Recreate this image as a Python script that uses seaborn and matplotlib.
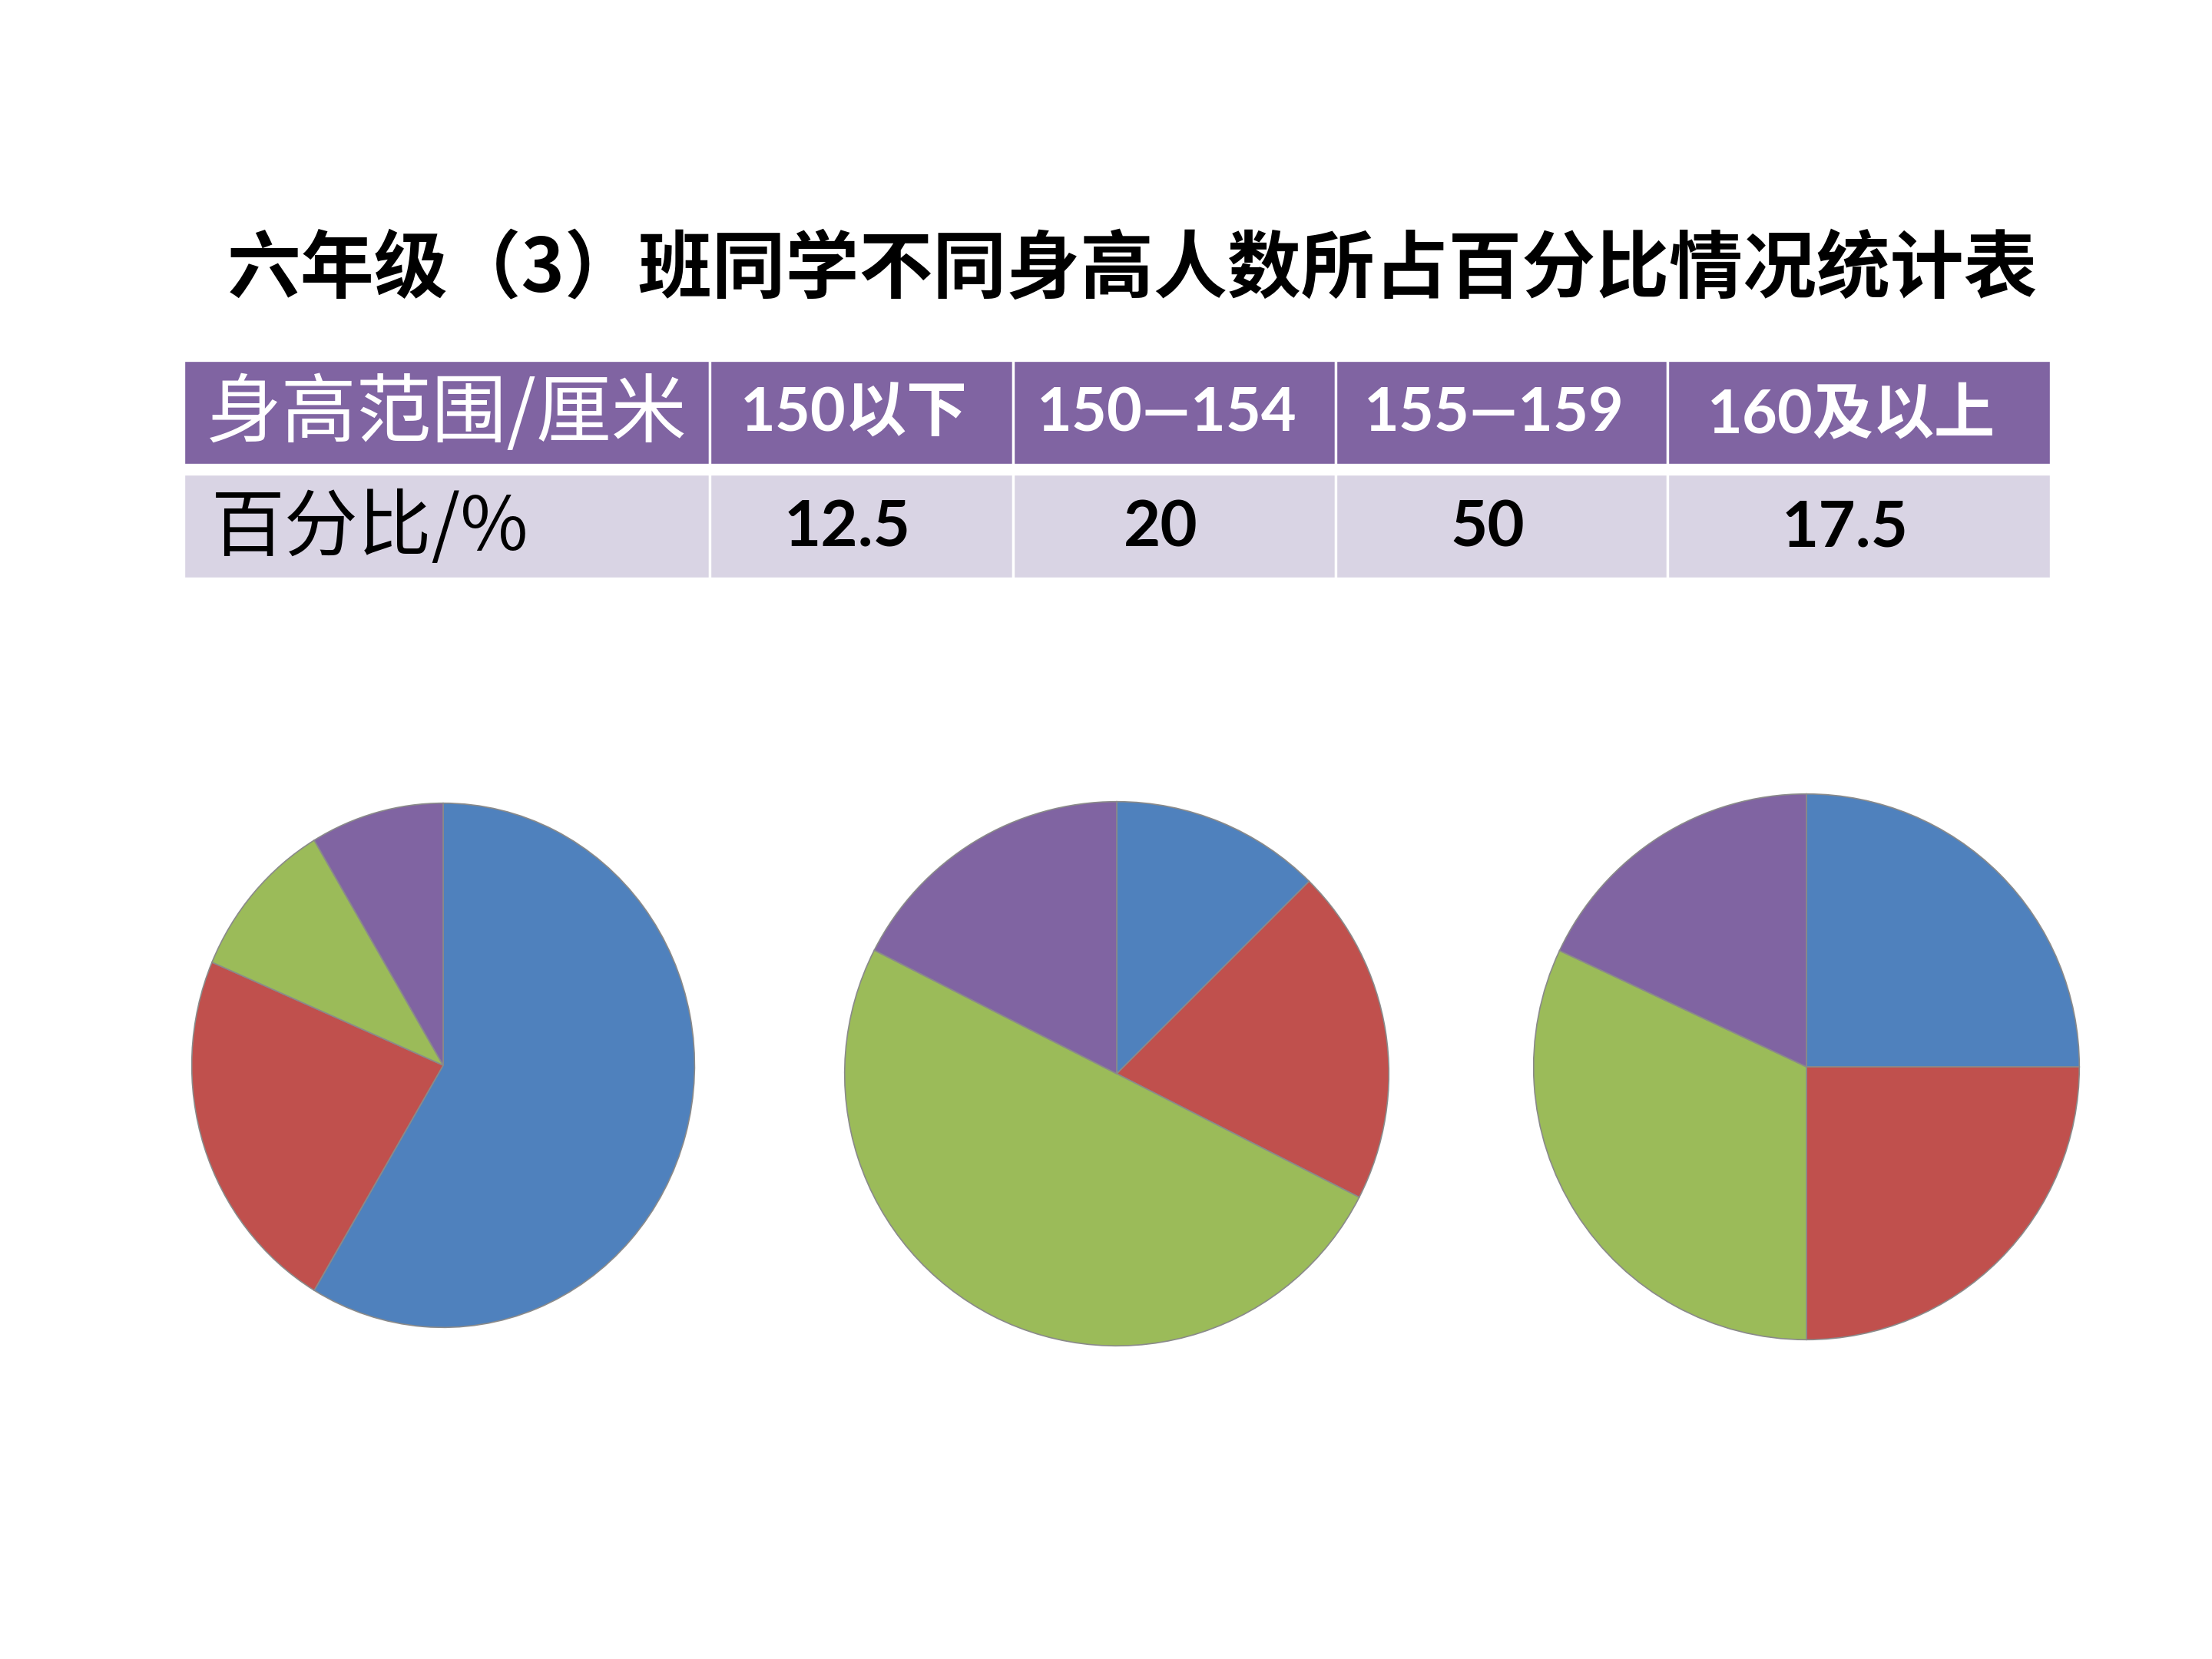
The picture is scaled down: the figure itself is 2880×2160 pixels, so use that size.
#!/usr/bin/env python3
#
# Class 6(3) height distribution: table plus three pie charts
#
import numpy as np
import matplotlib
matplotlib.use('Agg')
import matplotlib.pyplot as plt
import seaborn as sns
from matplotlib.patches import Rectangle


# Data
title = '六年级（3）班同学不同身高人数所占百分比情况统计表'
row_headers = ['身高范围/厘米', '百分比/%']
height_ranges = ['150以下', '150—154', '155—159', '160及以上']
percentages = [12.5, 20, 50, 17.5]

# Values of the three pies
pie1_values = [8.2, 3.2, 1.4, 1.2]
pie2_values = percentages
pie3_values = [25, 25, 32, 18]

# Office colours
colors = sns.color_palette(['#4F81BD', '#C0504D', '#9BBB59', '#8064A2'])
header_color = '#8064A2'
body_color = '#D9D4E4'

sns.set_theme(style='white')
plt.rcParams['font.family'] = ['Lato', 'Noto Sans CJK SC', 'DejaVu Sans']
cjk = ['Noto Sans CJK SC', 'DejaVu Sans']
mixed = ['Lato', 'Noto Sans CJK SC', 'DejaVu Sans']

# Figure size in pixels
W, H = 2880, 2160
fig = plt.figure(figsize=(W / 300, H / 300), dpi=300)
fig.patch.set_facecolor('white')

# Overlay axes in pixel coordinates, for title and table
ax = fig.add_axes([0, 0, 1, 1])
ax.set_xlim(0, W)
ax.set_ylim(H, 0)
ax.axis('off')

ax.text(1474, 352, title, ha='center', va='center', fontsize=23,
        fontweight='bold', family=cjk, color='black')

# Table geometry
col_x = [239, 924, 1319, 1739, 2171, 2670]
rows = [(469, 605), (617, 753)]

for irow, (y0, y1) in enumerate(rows):
    for icol in range(len(col_x) - 1):
        x0, x1 = col_x[icol], col_x[icol + 1]
        ax.add_patch(Rectangle(
            (x0, y0), x1 - x0, y1 - y0,
            facecolor=header_color if irow == 0 else body_color,
            edgecolor='white', linewidth=0.8))

# Header row
hy = 540
ax.text((col_x[0] + col_x[1]) / 2, hy, row_headers[0], ha='center',
        va='center', fontsize=23.5, family=cjk, color='white')
for i, label in enumerate(height_ranges):
    ax.text((col_x[i + 1] + col_x[i + 2]) / 2 - 10, hy, label, ha='center',
            va='center', fontsize=19, fontweight='bold', family=mixed,
            color='white')

# Percentage row
by = 688
ax.text(275, by, row_headers[1], ha='left', va='center', fontsize=23,
        family=cjk, color='black')
for i, v in enumerate(percentages):
    ax.text((col_x[i + 1] + col_x[i + 2]) / 2 - 18, by, f'{v:g}',
            ha='center', va='center', fontsize=20, fontweight='bold',
            family=mixed, color='black')

# Pies: centre x, centre y, x radius, y radius (pixels)
pies = [
    (pie1_values, 577, 1387, 328, 342),
    (pie2_values, 1454, 1398, 355, 355),
    (pie3_values, 2352, 1389, 356, 356),
]
for values, cx, cy, rx, ry in pies:
    pax = fig.add_axes([(cx - rx) / W, (H - cy - ry) / H, 2 * rx / W,
                        2 * ry / H])
    pax.pie(values, colors=colors, startangle=90, counterclock=False,
            radius=1,
            wedgeprops={'edgecolor': '#8a8a8a', 'linewidth': 0.4})
    pax.set_aspect('auto')
    pax.set_xlim(-1.002, 1.002)
    pax.set_ylim(-1.002, 1.002)
    pax.axis('off')

fig.savefig('out.png', dpi=300, facecolor='white')
